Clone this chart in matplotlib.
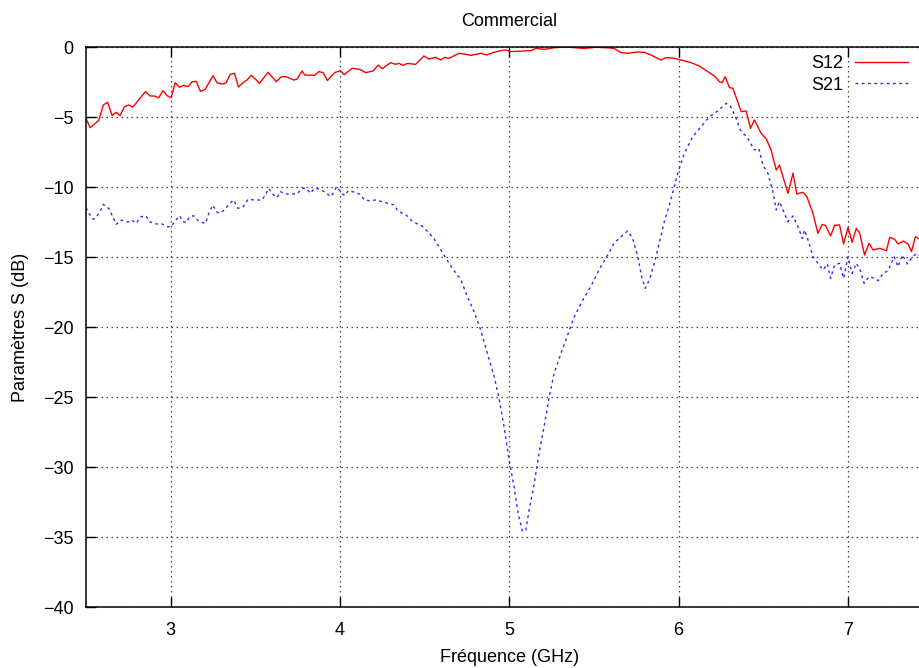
import matplotlib
matplotlib.use("Agg")
import matplotlib.pyplot as plt

plt.rcParams['font.family'] = ['Liberation Sans', 'DejaVu Sans']

# S12 sweep: frequency (GHz) and magnitude (dB)
s12_freq = [2.500, 2.524, 2.575, 2.602, 2.628, 2.654, 2.678, 2.701, 2.727, 2.753,
            2.776, 2.851, 2.879, 2.904, 2.930, 2.954, 2.979, 3.003, 3.027, 3.052,
            3.076, 3.102, 3.127, 3.151, 3.176, 3.204, 3.250, 3.275, 3.309, 3.328,
            3.352, 3.377, 3.401, 3.427, 3.451, 3.476, 3.502, 3.525, 3.575, 3.624,
            3.654, 3.683, 3.727, 3.747, 3.776, 3.792, 3.851, 3.875, 3.901, 3.926,
            3.969, 4.003, 4.025, 4.072, 4.117, 4.153, 4.196, 4.226, 4.250, 4.299,
            4.328, 4.348, 4.374, 4.398, 4.447, 4.496, 4.526, 4.565, 4.595, 4.618,
            4.644, 4.664, 4.703, 4.743, 4.772, 4.831, 4.867, 4.910, 4.950, 4.979,
            5.009, 5.127, 5.157, 5.206, 5.265, 5.334, 5.441, 5.512, 5.571, 5.620,
            5.660, 5.699, 5.759, 5.798, 5.837, 5.896, 5.926, 5.975, 6.015, 6.074,
            6.123, 6.173, 6.212, 6.242, 6.257, 6.275, 6.301, 6.321, 6.370, 6.399,
            6.425, 6.448, 6.488, 6.518, 6.547, 6.577, 6.596, 6.646, 6.676, 6.699,
            6.735, 6.758, 6.794, 6.823, 6.849, 6.869, 6.898, 6.922, 6.951, 6.975,
            7.001, 7.025, 7.050, 7.070, 7.099, 7.125, 7.149, 7.188, 7.228, 7.247,
            7.277, 7.296, 7.327, 7.356, 7.376, 7.399, 7.435, 7.470, 7.500]
s12_db = [-5.10, -5.76, -5.26, -4.14, -3.95, -4.90, -4.67, -4.90, -4.26, -4.14,
          -4.30, -3.19, -3.50, -3.50, -3.62, -3.12, -3.48, -3.62, -2.55, -2.88,
          -2.74, -2.83, -2.48, -2.45, -3.17, -3.02, -2.05, -2.57, -2.64, -2.55,
          -1.95, -1.88, -2.86, -2.55, -2.36, -2.02, -2.31, -2.60, -1.81, -2.48,
          -2.12, -2.12, -2.36, -2.29, -1.71, -2.00, -2.02, -1.76, -1.83, -2.40,
          -1.83, -1.69, -1.98, -1.52, -1.60, -1.83, -1.71, -1.29, -1.55, -1.12,
          -1.24, -1.17, -1.31, -1.17, -1.24, -0.64, -0.86, -0.74, -0.93, -0.74,
          -0.81, -0.69, -0.45, -0.52, -0.60, -0.45, -0.57, -0.38, -0.26, -0.21,
          -0.33, -0.26, -0.10, -0.17, -0.05, 0.00, -0.10, -0.02, -0.05, -0.10,
          -0.40, -0.45, -0.36, -0.38, -0.57, -0.93, -0.76, -0.81, -0.93, -1.12,
          -1.36, -1.76, -2.07, -2.48, -2.55, -2.12, -2.90, -2.95, -4.62, -4.57,
          -5.81, -5.21, -6.17, -6.57, -7.36, -8.79, -8.43, -10.45, -9.02, -10.50,
          -10.38, -10.69, -11.88, -13.31, -12.67, -12.76, -13.50, -12.74, -12.71, -14.07,
          -12.88, -13.95, -12.95, -13.31, -14.86, -14.02, -14.50, -14.38, -14.55, -13.60,
          -13.74, -14.07, -13.86, -14.07, -14.62, -13.55, -13.79, -14.00, -14.10]

# S21 sweep
s21_freq = [2.500, 2.520, 2.543, 2.563, 2.589, 2.602, 2.634, 2.658, 2.678, 2.707,
            2.747, 2.770, 2.796, 2.825, 2.855, 2.875, 2.914, 2.950, 2.973, 3.003,
            3.028, 3.052, 3.072, 3.092, 3.111, 3.135, 3.161, 3.191, 3.206, 3.226,
            3.250, 3.269, 3.289, 3.318, 3.344, 3.372, 3.398, 3.427, 3.457, 3.496,
            3.540, 3.559, 3.579, 3.602, 3.628, 3.648, 3.678, 3.717, 3.747, 3.776,
            3.802, 3.825, 3.849, 3.880, 3.914, 3.944, 3.963, 3.979, 4.003, 4.027,
            4.049, 4.082, 4.117, 4.145, 4.176, 4.210, 4.250, 4.285, 4.322, 4.338,
            4.368, 4.398, 4.423, 4.451, 4.486, 4.555, 4.614, 4.664, 4.713, 4.753,
            4.792, 4.831, 4.871, 4.910, 4.940, 4.969, 4.999, 5.028, 5.052, 5.078,
            5.098, 5.117, 5.147, 5.176, 5.206, 5.236, 5.265, 5.305, 5.344, 5.383,
            5.433, 5.482, 5.531, 5.581, 5.620, 5.660, 5.699, 5.729, 5.759, 5.782,
            5.803, 5.827, 5.857, 5.886, 5.916, 5.946, 5.995, 6.034, 6.084, 6.133,
            6.182, 6.232, 6.281, 6.306, 6.340, 6.365, 6.409, 6.448, 6.474, 6.498,
            6.528, 6.557, 6.577, 6.596, 6.646, 6.676, 6.705, 6.731, 6.744, 6.764,
            6.794, 6.823, 6.853, 6.879, 6.898, 6.922, 6.951, 6.975, 7.001, 7.025,
            7.050, 7.073, 7.096, 7.126, 7.157, 7.179, 7.208, 7.238, 7.273, 7.296,
            7.322, 7.352, 7.376, 7.405, 7.435, 7.470, 7.500]
s21_db = [-11.48, -11.93, -12.31, -12.12, -11.60, -11.24, -11.52, -12.12, -12.67, -12.36,
          -12.50, -12.36, -12.60, -12.12, -12.07, -12.48, -12.64, -12.64, -12.83, -12.83,
          -12.40, -12.05, -12.48, -12.55, -12.14, -12.05, -12.40, -12.55, -12.60, -11.88,
          -11.29, -11.76, -11.88, -11.64, -11.24, -10.93, -11.52, -11.45, -10.88, -10.93,
          -10.93, -10.57, -10.10, -10.50, -10.76, -10.33, -10.50, -10.50, -10.50, -10.10,
          -10.10, -10.45, -10.10, -10.14, -10.38, -10.69, -10.40, -9.98, -10.33, -10.62,
          -10.26, -10.36, -10.52, -10.93, -10.98, -10.93, -11.05, -11.17, -11.29, -11.64,
          -11.88, -12.07, -12.40, -12.60, -12.79, -13.67, -14.86, -15.81, -16.60, -17.83,
          -18.90, -20.20, -21.90, -23.50, -25.10, -27.10, -29.50, -31.40, -33.30, -34.60,
          -34.50, -33.10, -31.20, -29.00, -27.10, -25.00, -23.30, -21.90, -20.60, -19.30,
          -18.10, -17.10, -15.90, -14.86, -14.00, -13.55, -13.14, -13.67, -14.98, -16.40,
          -17.24, -16.64, -15.45, -14.00, -12.48, -11.30, -9.02, -7.60, -6.40, -5.69,
          -4.98, -4.57, -4.02, -4.21, -5.10, -5.93, -6.52, -7.36, -7.24, -8.43,
          -9.02, -10.33, -11.64, -11.05, -12.48, -12.07, -12.83, -13.67, -13.07, -13.74,
          -14.98, -15.45, -15.93, -15.50, -16.52, -15.57, -15.45, -16.52, -14.98, -16.17,
          -15.45, -15.93, -16.88, -16.40, -16.52, -16.69, -16.17, -15.98, -14.98, -15.69,
          -14.86, -15.50, -15.10, -14.74, -14.98, -14.90, -15.00]

x_ticks = [3, 4, 5, 6, 7]
y_ticks = [0, -5, -10, -15, -20, -25, -30, -35, -40]

fs = 13

fig = plt.figure(figsize=(9.2, 6.68), dpi=100)
# plot area runs a little past the right edge of the image
ax = fig.add_axes([86 / 920, 61 / 668, 846.5 / 920, 560 / 668])

ax.plot(s12_freq, s12_db, color='#ff0000', lw=1.0, label='S12')
ax.plot(s21_freq, s21_db, color='#2a2aff', lw=1.0, linestyle=(0, (2, 2.5)), label='S21')

ax.set_xlim(2.5, 7.5)
ax.set_ylim(-40, 0)
ax.set_xticks(x_ticks)
ax.set_yticks(y_ticks)
ax.tick_params(direction='in', length=7, width=1, top=True, right=True,
               labelsize=fs, color='black')
ax.tick_params(axis='x', pad=11)
ax.tick_params(axis='y', pad=9)
ax.grid(True, color='#444444', linestyle=(0, (1.2, 2.8)), lw=0.9)
for sp in ax.spines.values():
    sp.set_linewidth(1.1)
    sp.set_color('black')

ax.set_title('Commercial', fontsize=fs, pad=15)
ax.set_xlabel('Fréquence (GHz)', fontsize=fs, labelpad=7)
ax.set_ylabel('Paramètres S (dB)', fontsize=fs, labelpad=10)

ax.legend(loc='upper right', bbox_to_anchor=(908 / 920, 1 - 55 / 668),
          bbox_transform=fig.transFigure, frameon=False, markerfirst=False,
          fontsize=fs, handlelength=2.95, handletextpad=0.65, labelspacing=0.25,
          borderaxespad=0, borderpad=0)

fig.savefig('out.png', dpi=100)
